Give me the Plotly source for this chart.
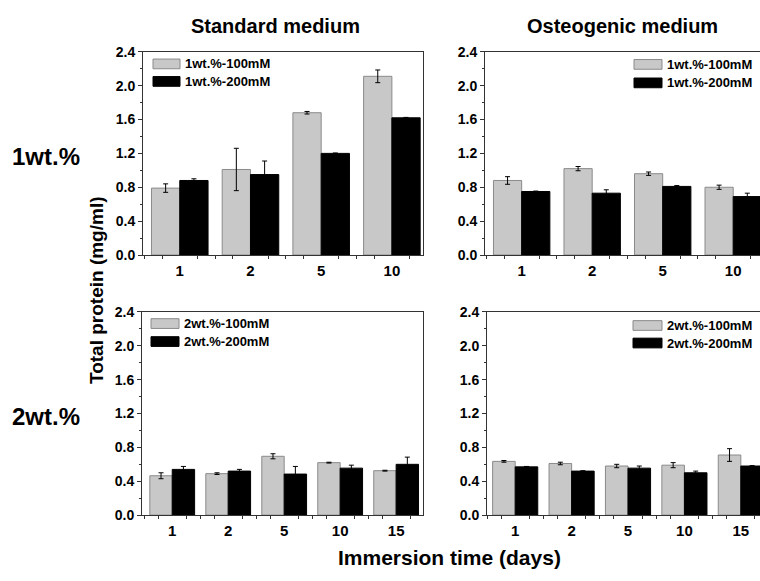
import plotly.graph_objects as go

# ---------------- data ----------------
days_1wt = ["1", "2", "5", "10"]
days_2wt = ["1", "2", "5", "10", "15"]

std_1wt_100 = [0.79, 1.01, 1.68, 2.11]
std_1wt_100_err = [0.05, 0.25, 0.015, 0.075]
std_1wt_200 = [0.88, 0.95, 1.20, 1.62]
std_1wt_200_err = [0.02, 0.16, 0.005, 0.005]

ost_1wt_100 = [0.88, 1.02, 0.96, 0.80]
ost_1wt_100_err = [0.045, 0.025, 0.02, 0.025]
ost_1wt_200 = [0.75, 0.73, 0.81, 0.69]
ost_1wt_200_err = [0.005, 0.04, 0.01, 0.04]

std_2wt_100 = [0.465, 0.49, 0.695, 0.62, 0.525]
std_2wt_100_err = [0.035, 0.01, 0.03, 0.005, 0.005]
std_2wt_200 = [0.54, 0.52, 0.485, 0.555, 0.60]
std_2wt_200_err = [0.035, 0.02, 0.09, 0.035, 0.085]

ost_2wt_100 = [0.635, 0.61, 0.58, 0.59, 0.71]
ost_2wt_100_err = [0.01, 0.015, 0.02, 0.03, 0.075]
ost_2wt_200 = [0.57, 0.52, 0.555, 0.50, 0.58]
ost_2wt_200_err = [0.005, 0.005, 0.025, 0.02, 0.005]

y_ticks = [0.0, 0.4, 0.8, 1.2, 1.6, 2.0, 2.4]

names_1wt = ["1wt.%-100mM", "1wt.%-200mM"]
names_2wt = ["2wt.%-100mM", "2wt.%-200mM"]

col_titles = ["Standard medium", "Osteogenic medium"]
row_titles = ["1wt.%", "2wt.%"]
x_title = "Immersion time (days)"
y_title = "Total protein (mg/ml)"

# ---------------- styling ----------------
W, H = 760, 581
FONT = "Liberation Sans, Arial, sans-serif"
GRAY = "#c8c8c8"
GRAY_LINE = "#8a8a8a"
AXC = "#333333"


def px(x):
    return x / W


def py(y):
    return 1 - y / H


panels = [
    ("", days_1wt, std_1wt_100, std_1wt_100_err, std_1wt_200, std_1wt_200_err,
     [px(143), px(423)], [py(254), py(45)], [-0.52, 3.44], True),
    ("2", days_1wt, ost_1wt_100, ost_1wt_100_err, ost_1wt_200, ost_1wt_200_err,
     [px(485), 1.0], [py(254), py(45)], [-0.52, 3.38], False),
    ("3", days_2wt, std_2wt_100, std_2wt_100_err, std_2wt_200, std_2wt_200_err,
     [px(142), px(423)], [py(521.5), py(312.5)], [-0.54, 4.48], True),
    ("4", days_2wt, ost_2wt_100, ost_2wt_100_err, ost_2wt_200, ost_2wt_200_err,
     [px(487), 1.0], [py(521.5), py(312.5)], [-0.5, 4.34], False),
]

fig = go.Figure()
layout = {}
for suf, cats, s1, e1, s2, e2, xd, yd, xr, mir in panels:
    xpos = list(range(len(cats)))
    xa, ya = "x" + suf, "y" + suf
    fig.add_trace(go.Bar(
        x=xpos, y=s1, xaxis=xa, yaxis=ya,
        marker=dict(color=GRAY, line=dict(color=GRAY_LINE, width=1)),
        error_y=dict(type="data", array=e1, color="black", thickness=1, width=2.5),
        showlegend=False,
    ))
    fig.add_trace(go.Bar(
        x=xpos, y=s2, xaxis=xa, yaxis=ya,
        marker=dict(color="black", line=dict(color="black", width=1)),
        error_y=dict(type="data", array=e2, color="black", thickness=1, width=2.5),
        showlegend=False,
    ))
    minor_vals = [k - 0.5 for k in range(len(cats) + 1)]
    for k in range(len(cats)):
        minor_vals += [k - 0.25, k + 0.25]
    layout["xaxis" + suf] = dict(
        domain=xd, range=xr, anchor=ya,
        tickvals=xpos, ticktext=cats,
        ticks="outside", ticklen=0, tickcolor=AXC,
        minor=dict(tickvals=minor_vals, ticks="outside", ticklen=3, tickcolor=AXC),
        showline=True, linecolor=AXC, linewidth=1, mirror=True,
        showgrid=False, zeroline=False,
        tickfont=dict(family=FONT, size=15, color="black", weight="bold"),
        ticklabelstandoff=2,
    )
    layout["yaxis" + suf] = dict(
        domain=yd, range=[0, 2.4], anchor=xa,
        tickvals=y_ticks, tickformat=".1f",
        ticks="outside", ticklen=4, tickcolor=AXC,
        minor=dict(dtick=0.2, tick0=0, ticks="outside", ticklen=2, tickcolor=AXC),
        showline=True, linecolor=AXC, linewidth=1, mirror=mir,
        showgrid=False, zeroline=False,
        tickfont=dict(family=FONT, size=14, color="black", weight="bold"),
    )

fig.update_layout(**layout)

annotations = []
shapes = []

for txt, cx in zip(col_titles, [275, 622]):
    annotations.append(dict(text=txt, x=px(cx), y=py(18), xref="paper", yref="paper",
                            showarrow=False, xanchor="center", yanchor="middle",
                            font=dict(family=FONT, size=20, color="black", weight="bold")))
for txt, cy in zip(row_titles, [153, 420]):
    annotations.append(dict(text=txt, x=px(46), y=py(cy), xref="paper", yref="paper",
                            showarrow=False, xanchor="center", yanchor="middle",
                            font=dict(family=FONT, size=24, color="black", weight="bold")))
annotations.append(dict(text=x_title, x=px(450), y=py(565), xref="paper", yref="paper",
                        showarrow=False, xanchor="center", yanchor="middle",
                        font=dict(family=FONT, size=21, color="black", weight="bold")))
annotations.append(dict(text=y_title, x=px(96), y=py(290), xref="paper", yref="paper",
                        showarrow=False, xanchor="center", yanchor="middle", textangle=-90,
                        font=dict(family=FONT, size=19, color="black", weight="bold")))

legend_specs = [
    (names_1wt, 153, 180, [57.5, 75.5]),
    (names_1wt, 634, 662, [58, 77]),
    (names_2wt, 151, 179, [324.5, 343]),
    (names_2wt, 633, 662, [326.5, 344.5]),
]
for names, x0, x1, rows in legend_specs:
    for j, (nm, cy) in enumerate(zip(names, rows)):
        fill = GRAY if j == 0 else "black"
        line = GRAY_LINE if j == 0 else "black"
        shapes.append(dict(type="rect", xref="paper", yref="paper",
                           x0=px(x0), x1=px(x1), y0=py(cy + 5), y1=py(cy - 5),
                           fillcolor=fill, line=dict(color=line, width=1)))
        annotations.append(dict(text=nm, x=px(x1 + 3), y=py(cy), xref="paper", yref="paper",
                                showarrow=False, xanchor="left", yanchor="middle",
                                font=dict(family=FONT, size=13, color="black", weight="bold")))

fig.update_layout(
    width=W, height=H,
    margin=dict(l=0, r=0, t=0, b=0),
    paper_bgcolor="white", plot_bgcolor="white",
    barmode="group", bargap=0.2, bargroupgap=0,
    showlegend=False,
    annotations=annotations, shapes=shapes,
)

fig.write_html("out.html", config={"displayModeBar": False},
               post_script="document.body.style.margin='0';document.body.style.overflow='hidden';")
